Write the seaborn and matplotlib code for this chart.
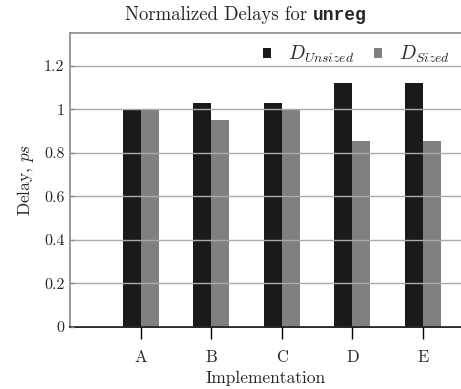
import matplotlib
matplotlib.use("Agg")
import matplotlib.pyplot as plt
import seaborn as sns
import pandas as pd

categories = ["A", "B", "C", "D", "E"]
unsized = [1.0, 1.03, 1.03, 1.12, 1.12]
sized = [1.0, 0.952, 1.0, 0.855, 0.855]
series_names = [r"$D_{Unsized}$", r"$D_{Sized}$"]
yticks = [0, 0.2, 0.4, 0.6, 0.8, 1.0, 1.2]
ytick_labels = ["0", "0.2", "0.4", "0.6", "0.8", "1", "1.2"]

sns.set_style("white")
plt.rcParams["font.family"] = ["cmr10", "DejaVu Serif"]
plt.rcParams["mathtext.fontset"] = "cm"
plt.rcParams["axes.formatter.use_mathtext"] = True

df = pd.DataFrame({
    "Implementation": categories * 2,
    "Delay": unsized + sized,
    "Series": [series_names[0]] * len(categories) + [series_names[1]] * len(categories),
})

fig = plt.figure(figsize=(4.61, 3.89), dpi=100)
ax = fig.add_axes([70 / 461, 62 / 389, 1 - 70 / 461, (327 - 33) / 389])

sns.barplot(data=df, x="Implementation", y="Delay", hue="Series",
            palette=["#1a1a1a", "#808080"], width=0.51, gap=0,
            saturation=1, ax=ax, errorbar=None, linewidth=0)

ax.set_xlim(-1.0, 4.54)
ax.set_ylim(0, 1.35)
ax.set_yticks(yticks)
ax.set_yticklabels(ytick_labels, fontsize=11.5)
ax.tick_params(axis="x", bottom=True, labelsize=12, direction="out", length=8.5,
               width=1, color="black", pad=8)
ax.tick_params(axis="y", left=True, direction="in", length=3, width=1,
               color="#888888", pad=4)
ax.yaxis.grid(True, color="#aaaaaa", linewidth=1)
ax.set_axisbelow(False)
for line in ax.get_ygridlines():
    line.set_zorder(5)

ax.spines["right"].set_visible(False)
ax.spines["left"].set_color("#888888")
ax.spines["top"].set_color("#888888")
ax.spines["bottom"].set_color("black")
for s in ["left", "top", "bottom"]:
    ax.spines[s].set_linewidth(1.2)

ax.set_xlabel("Implementation", fontsize=12.5, labelpad=4)
ax.set_ylabel(r"Delay, $ps$", fontsize=12.5, labelpad=6)

ax.legend(loc="upper right", frameon=False, fontsize=14, ncol=2,
          handlelength=0.4, handleheight=0.4, handletextpad=0.9,
          columnspacing=1.0, borderaxespad=0.15)

t1 = fig.text(125 / 461, (389 - 20) / 389, "Normalized Delays for ", fontsize=13.5,
              ha="left", va="baseline")
ax.annotate("unreg", xy=(1.0, 0.0), xycoords=t1, fontsize=13,
            family="Liberation Mono", weight="bold", ha="left", va="bottom",
            annotation_clip=False)

fig.savefig("out.png", dpi=100)
